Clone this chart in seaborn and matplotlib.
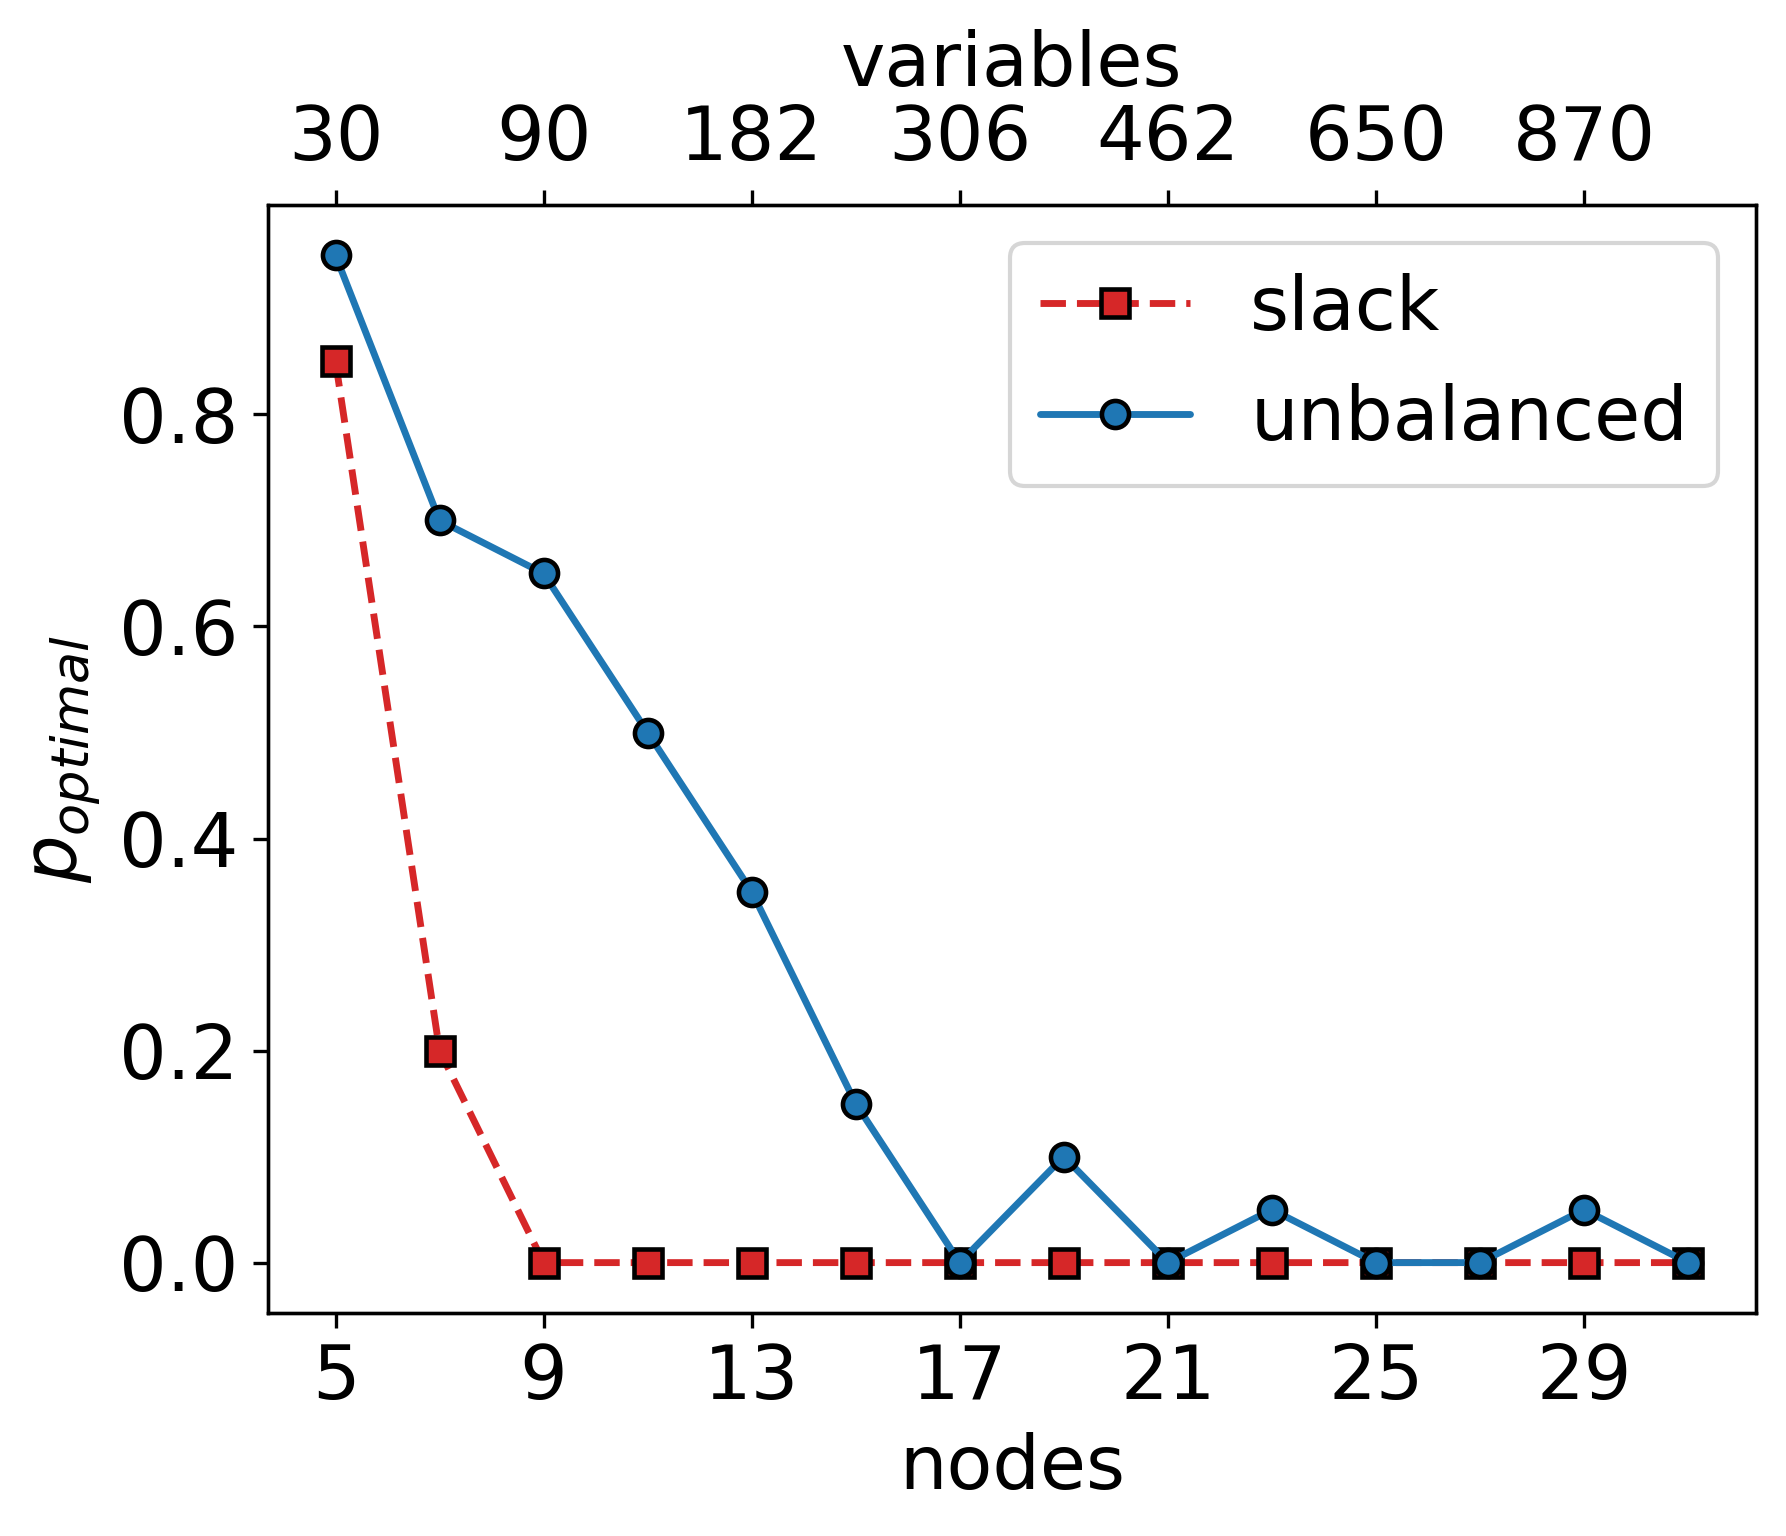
import seaborn as sns
import matplotlib.pyplot as plt

# data
nodes = [5, 7, 9, 11, 13, 15, 17, 19, 21, 23, 25, 27, 29, 31]
slack = [0.85, 0.20, 0, 0, 0, 0, 0, 0, 0, 0, 0, 0, 0, 0]
unbalanced = [0.95, 0.70, 0.65, 0.50, 0.35, 0.15, 0.0, 0.10, 0.0, 0.05, 0.0, 0.0, 0.05, 0.0]
tick_nodes = [5, 9, 13, 17, 21, 25, 29]
tick_vars = ['30', '90', '182', '306', '462', '650', '870']

sns.set_style('ticks', rc={'text.color': 'black', 'axes.labelcolor': 'black',
                           'xtick.color': 'black', 'ytick.color': 'black',
                           'axes.edgecolor': 'black'})
plt.rcParams['font.family'] = ['DejaVu Sans']
plt.rcParams['font.size'] = 18

fig = plt.figure(figsize=(1786 / 300, 1536 / 300), dpi=300)
ax = fig.add_axes([0.150, 0.1452, 0.833, 0.7213])

sns.lineplot(x=nodes, y=slack, ax=ax, color='tab:red', linestyle='--', marker='s',
             markersize=6.5, markeredgecolor='black', markeredgewidth=1.1, linewidth=1.65,
             label='slack')
sns.lineplot(x=nodes, y=unbalanced, ax=ax, color='tab:blue', linestyle='-', marker='o',
             markersize=6.5, markeredgecolor='black', markeredgewidth=1.1, linewidth=1.65,
             label='unbalanced')

ax.set_xticks(tick_nodes)
ax.set_xlabel('nodes', fontsize=18)
ax.set_ylabel('$p_{optimal}$', fontsize=18)
ax.tick_params(labelsize=18)
ax.legend(loc='upper right', fontsize=18)

top = ax.twiny()
top.set_xlim(ax.get_xlim())
top.set_xticks(tick_nodes)
top.set_xticklabels(tick_vars)
top.set_xlabel('variables', fontsize=18)
top.tick_params(labelsize=18)

fig.savefig('out.png', dpi=300)
